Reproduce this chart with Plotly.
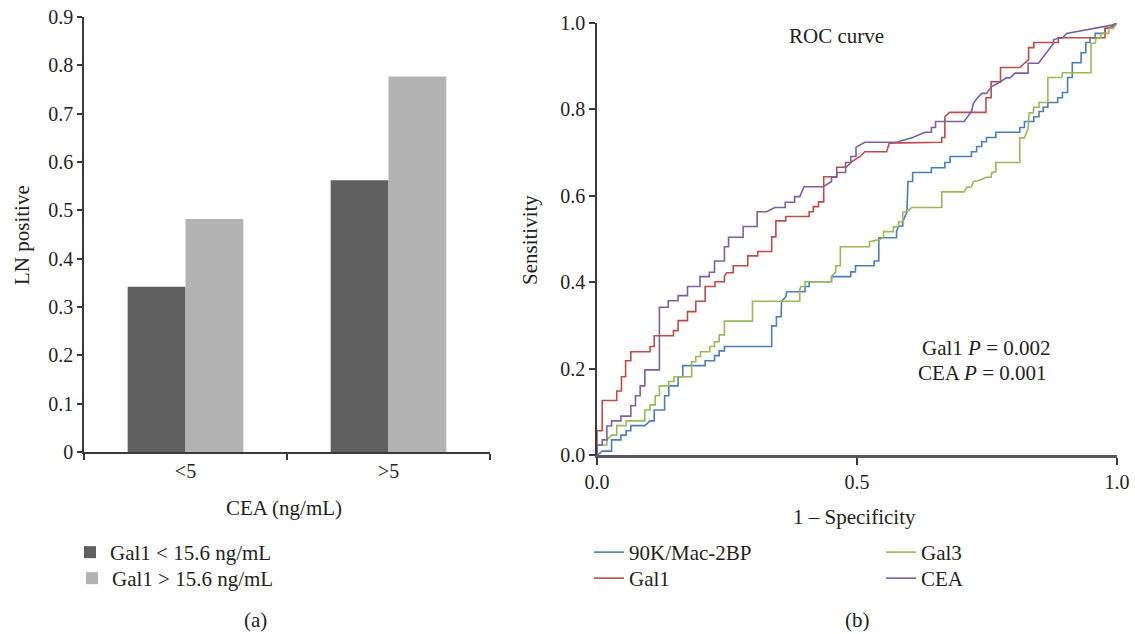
import plotly.graph_objects as go

W, H = 1135, 634

# ---------------- Panel (a) data ----------------
cea_groups = ["<5", ">5"]
gal1_low = [0.342, 0.562]    # Gal1 < 15.6 ng/mL
gal1_high = [0.482, 0.777]   # Gal1 > 15.6 ng/mL
bar_ticks = [0, 0.1, 0.2, 0.3, 0.4, 0.5, 0.6, 0.7, 0.8, 0.9]

# ---------------- Panel (b) data: (1 - specificity, sensitivity) ----------------
roc_90k = [(0,0),(0.001,0),(0.010,0.009),(0.028,0.009),(0.028,0.035),(0.046,0.035),(0.046,0.046),(0.056,0.046),
    (0.056,0.056),(0.065,0.056),(0.065,0.068),(0.092,0.068),(0.102,0.079),(0.110,0.079),(0.110,0.104),(0.130,0.104),
    (0.130,0.137),(0.138,0.137),(0.138,0.160),(0.156,0.160),(0.156,0.181),(0.165,0.181),(0.165,0.207),(0.208,0.207),
    (0.208,0.218),(0.226,0.218),(0.226,0.230),(0.235,0.230),(0.235,0.241),(0.245,0.241),(0.245,0.251),(0.336,0.251),
    (0.336,0.299),(0.345,0.299),(0.345,0.320),(0.354,0.320),(0.355,0.356),(0.363,0.366),(0.365,0.378),(0.400,0.378),
    (0.400,0.390),(0.408,0.390),(0.408,0.401),(0.451,0.401),(0.451,0.413),(0.488,0.413),(0.488,0.424),(0.497,0.424),
    (0.497,0.438),(0.533,0.438),(0.533,0.449),(0.542,0.449),(0.542,0.503),(0.576,0.503),(0.576,0.517),(0.580,0.530),
    (0.588,0.530),(0.588,0.540),(0.596,0.563),(0.598,0.633),(0.607,0.633),(0.607,0.654),(0.643,0.654),(0.643,0.665),
    (0.669,0.665),(0.669,0.677),(0.679,0.677),(0.679,0.691),(0.720,0.691),(0.720,0.702),(0.730,0.702),(0.730,0.714),
    (0.740,0.714),(0.740,0.725),(0.749,0.725),(0.749,0.735),(0.767,0.735),(0.767,0.747),(0.813,0.747),(0.813,0.758),
    (0.822,0.758),(0.822,0.772),(0.840,0.772),(0.840,0.783),(0.850,0.783),(0.850,0.795),(0.858,0.795),(0.858,0.805),
    (0.867,0.805),(0.867,0.816),(0.886,0.816),(0.886,0.827),(0.895,0.827),(0.895,0.839),(0.905,0.839),(0.905,0.874),
    (0.914,0.874),(0.914,0.908),(0.931,0.908),(0.931,0.931),(0.940,0.931),(0.940,0.955),(0.948,0.955),(0.948,0.966),
    (0.958,0.966),(0.958,0.976),(0.977,0.976),(0.977,0.988),(0.985,0.988),(1,1)]

roc_gal1 = [(0,0),(0,0.056),(0.010,0.056),(0.010,0.126),(0.038,0.126),(0.038,0.148),(0.047,0.148),(0.047,0.181),
    (0.055,0.181),(0.055,0.218),(0.065,0.218),(0.065,0.239),(0.102,0.239),(0.102,0.251),(0.110,0.251),(0.110,0.276),
    (0.147,0.276),(0.147,0.288),(0.156,0.288),(0.156,0.311),(0.174,0.311),(0.174,0.332),(0.190,0.332),(0.190,0.356),
    (0.208,0.356),(0.208,0.390),(0.227,0.390),(0.227,0.401),(0.245,0.401),(0.245,0.413),(0.249,0.422),(0.262,0.422),
    (0.262,0.438),(0.290,0.438),(0.290,0.461),(0.309,0.461),(0.309,0.471),(0.336,0.471),(0.336,0.505),(0.344,0.505),
    (0.344,0.542),(0.363,0.542),(0.363,0.552),(0.408,0.552),(0.408,0.563),(0.416,0.563),(0.416,0.575),(0.426,0.575),
    (0.426,0.586),(0.436,0.586),(0.436,0.644),(0.461,0.644),(0.461,0.666),(0.479,0.666),(0.490,0.679),(0.506,0.691),
    (0.515,0.702),(0.557,0.702),(0.562,0.722),(0.663,0.724),(0.663,0.735),(0.669,0.735),(0.669,0.783),(0.678,0.793),
    (0.748,0.793),(0.748,0.827),(0.758,0.827),(0.758,0.864),(0.776,0.864),(0.776,0.897),(0.813,0.897),(0.830,0.915),
    (0.830,0.943),(0.840,0.943),(0.840,0.955),(0.887,0.955),(0.887,0.966),(0.977,0.966),(0.977,0.987),(0.990,0.990),
    (1,1)]

roc_gal3 = [(0,0),(0,0.023),(0.019,0.023),(0.019,0.035),(0.028,0.046),(0.038,0.046),(0.038,0.068),(0.056,0.068),
    (0.056,0.079),(0.092,0.079),(0.092,0.104),(0.102,0.104),(0.102,0.116),(0.112,0.116),(0.112,0.137),(0.120,0.137),
    (0.120,0.160),(0.138,0.160),(0.138,0.170),(0.148,0.170),(0.148,0.181),(0.182,0.181),(0.182,0.216),(0.190,0.216),
    (0.190,0.228),(0.199,0.228),(0.199,0.239),(0.217,0.239),(0.217,0.251),(0.226,0.251),(0.226,0.262),(0.235,0.262),
    (0.235,0.278),(0.245,0.278),(0.245,0.310),(0.299,0.310),(0.299,0.356),(0.390,0.356),(0.390,0.382),(0.392,0.390),
    (0.400,0.390),(0.400,0.401),(0.451,0.401),(0.451,0.413),(0.459,0.424),(0.459,0.438),(0.468,0.438),(0.468,0.482),
    (0.524,0.482),(0.524,0.494),(0.541,0.498),(0.551,0.503),(0.551,0.517),(0.570,0.517),(0.570,0.528),(0.580,0.528),
    (0.580,0.540),(0.588,0.540),(0.588,0.562),(0.596,0.563),(0.605,0.573),(0.663,0.573),(0.663,0.609),(0.706,0.609),
    (0.711,0.619),(0.720,0.621),(0.724,0.633),(0.733,0.635),(0.749,0.643),(0.758,0.643),(0.759,0.653),(0.767,0.656),
    (0.767,0.677),(0.813,0.677),(0.813,0.734),(0.822,0.734),(0.829,0.756),(0.831,0.792),(0.839,0.792),(0.840,0.805),
    (0.850,0.805),(0.850,0.816),(0.867,0.816),(0.867,0.874),(0.894,0.874),(0.895,0.885),(0.950,0.885),(0.950,0.953),
    (0.958,0.953),(0.960,0.965),(0.969,0.965),(0.969,0.976),(0.984,0.976),(0.985,0.988),(0.993,0.988),(1,1)]

roc_cea = [(0,0),(0,0.023),(0.010,0.023),(0.010,0.035),(0.019,0.035),(0.019,0.067),(0.028,0.067),(0.028,0.079),
    (0.046,0.079),(0.046,0.090),(0.065,0.090),(0.065,0.114),(0.074,0.114),(0.074,0.137),(0.083,0.137),(0.083,0.160),
    (0.092,0.160),(0.092,0.197),(0.120,0.197),(0.120,0.342),(0.137,0.342),(0.137,0.357),(0.156,0.357),(0.156,0.369),
    (0.174,0.369),(0.174,0.390),(0.198,0.390),(0.198,0.413),(0.216,0.413),(0.216,0.423),(0.226,0.423),(0.226,0.449),
    (0.245,0.449),(0.245,0.482),(0.253,0.482),(0.253,0.504),(0.281,0.504),(0.281,0.529),(0.308,0.529),(0.308,0.563),
    (0.326,0.563),(0.342,0.573),(0.362,0.573),(0.362,0.585),(0.380,0.585),(0.380,0.598),(0.390,0.598),(0.398,0.621),
    (0.435,0.621),(0.451,0.633),(0.451,0.643),(0.461,0.643),(0.461,0.654),(0.478,0.654),(0.478,0.677),(0.488,0.677),
    (0.488,0.691),(0.498,0.691),(0.498,0.712),(0.515,0.724),(0.576,0.724),(0.607,0.735),(0.631,0.747),(0.643,0.747),
    (0.643,0.758),(0.651,0.758),(0.651,0.772),(0.706,0.772),(0.720,0.795),(0.724,0.814),(0.731,0.826),(0.740,0.837),
    (0.749,0.837),(0.759,0.853),(0.776,0.864),(0.787,0.873),(0.794,0.873),(0.804,0.884),(0.829,0.884),(0.829,0.907),
    (0.849,0.907),(0.878,0.953),(0.878,0.961),(0.887,0.965),(0.895,0.965),(0.903,0.976),(0.990,0.995),(1,1)]

roc_ticks_y = [0, 0.2, 0.4, 0.6, 0.8, 1.0]
roc_ticks_x = [0, 0.5, 1.0]

FONT = "Liberation Serif"
TXT = "#231f20"
FS = 21      # labels
FT = 20      # tick labels

fig = go.Figure()

fig.add_trace(go.Bar(x=cea_groups, y=gal1_low, name="Gal1 &lt; 15.6 ng/mL",
                     marker=dict(color="#606060", line=dict(width=0)), xaxis="x", yaxis="y", legend="legend"))
fig.add_trace(go.Bar(x=cea_groups, y=gal1_high, name="Gal1 &gt; 15.6 ng/mL",
                     marker=dict(color="#b3b3b3", line=dict(width=0)), xaxis="x", yaxis="y", legend="legend2"))

series = [("90K/Mac-2BP", roc_90k, "#4a7ebb", "legend3"),
          ("Gal1", roc_gal1, "#be4b48", "legend4"),
          ("Gal3", roc_gal3, "#98b954", "legend5"),
          ("CEA", roc_cea, "#7d60a0", "legend6")]
for name, pts, col, lg in series:
    fig.add_trace(go.Scatter(x=[p[0] for p in pts], y=[p[1] for p in pts], mode="lines", name=name,
                             line=dict(color=col, width=1.6), xaxis="x2", yaxis="y2", legend=lg))

def px(x):
    return x / W

def py(y):
    return 1 - y / H

axis_common = dict(showgrid=False, zeroline=False, showline=True, ticks="outside", automargin=False,
                   tickfont=dict(family=FONT, size=FT, color=TXT))

leg_common = dict(xanchor="left", yanchor="top", bgcolor="rgba(0,0,0,0)", borderwidth=0,
                  font=dict(family=FONT, size=FS, color=TXT))

ROW1, ROW2 = 532, 558   # legend box tops (px)

fig.update_layout(
    width=W, height=H, autosize=False,
    margin=dict(l=0, r=0, t=0, b=0, pad=0, autoexpand=False),
    paper_bgcolor="white", plot_bgcolor="white",
    font=dict(family=FONT, size=FS, color=TXT),
    barmode="group", bargap=0.43, bargroupgap=0,
    xaxis=dict(domain=[px(84), px(490)], anchor="y", linecolor="#3a3a3a", linewidth=1.5,
               tickson="boundaries", ticklen=6, tickcolor="#3a3a3a", tickwidth=1.5, **axis_common),
    yaxis=dict(domain=[py(452), py(17)], anchor="x", range=[0, 0.9], tickvals=bar_ticks,
               ticktext=[f"{v:g}" for v in bar_ticks], linecolor="#3a3a3a", linewidth=1.5,
               ticklen=5, tickcolor="#3a3a3a", tickwidth=1.5, **axis_common),
    xaxis2=dict(domain=[px(597), px(1117)], anchor="y2", range=[0, 1], tickvals=roc_ticks_x,
                ticktext=[f"{v:.1f}" for v in roc_ticks_x], linecolor="#595959", linewidth=2.5,
                ticklen=7, tickcolor="#3a3a3a", tickwidth=1.5, **axis_common),
    yaxis2=dict(domain=[py(455), py(23)], anchor="x2", range=[0, 1], tickvals=roc_ticks_y,
                ticktext=[f"{v:.1f}" for v in roc_ticks_y], linecolor="#3a3a3a", linewidth=1.5,
                ticklen=6, tickcolor="#3a3a3a", tickwidth=1.5, **axis_common),
    legend=dict(x=px(70), y=py(ROW1), **leg_common),
    legend2=dict(x=px(72), y=py(ROW2), **leg_common),
    legend3=dict(x=px(589), y=py(ROW1), **leg_common),
    legend4=dict(x=px(589), y=py(ROW2), **leg_common),
    legend5=dict(x=px(881), y=py(ROW1), **leg_common),
    legend6=dict(x=px(881), y=py(ROW2), **leg_common),
    showlegend=True,
)

annots = [
    dict(text="LN positive", x=px(22), y=py(235), textangle=-90),
    dict(text="CEA (ng/mL)", x=px(284), y=py(508)),
    dict(text="(a)", x=px(255), y=py(620)),
    dict(text="Sensitivity", x=px(530), y=py(240), textangle=-90),
    dict(text="1 \u2013 Specificity", x=px(854), y=py(517)),
    dict(text="ROC curve", x=px(836), y=py(36)),
    dict(text="Gal1 <i>P</i> = 0.002", x=px(986), y=py(348)),
    dict(text="CEA <i>P</i> = 0.001", x=px(982), y=py(373)),
    dict(text="(b)", x=px(857), y=py(620)),
]
for a in annots:
    fig.add_annotation(xref="paper", yref="paper", showarrow=False, xanchor="center", yanchor="middle",
                       font=dict(family=FONT, size=FS, color=TXT), **a)

fig.write_html("out.html")
